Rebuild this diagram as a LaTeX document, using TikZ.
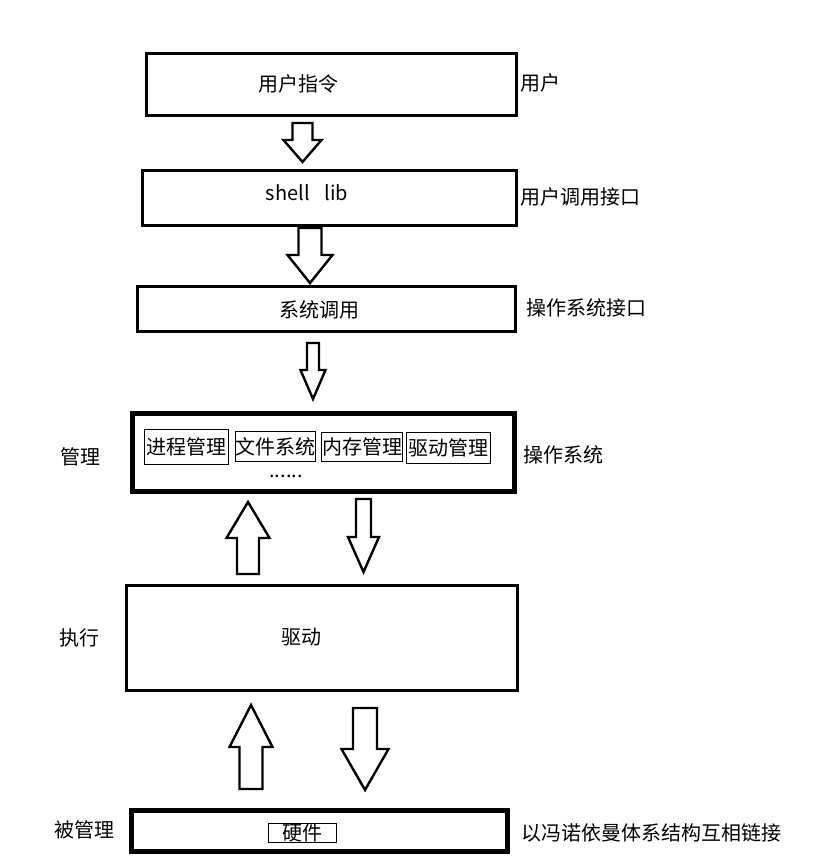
\documentclass[tikz,border=0pt]{standalone}
\usepackage{fontspec}
\setmainfont{Noto Sans CJK SC}
\usepackage{tikz}
\usetikzlibrary{positioning}
% fat block arrow: x, y start, y tip, half shaft, half head, y of head base
\newcommand{\blockarrow}[6]{%
  \draw[blk] (#1-#4,#2) -- (#1-#4,#6) -- (#1-#5,#6) -- (#1,#3) -- (#1+#5,#6) -- (#1+#4,#6) -- (#1+#4,#2) -- cycle;}

\begin{document}
\begin{tikzpicture}[x=1pt, y=-1pt,
  font=\fontsize{20}{24}\selectfont,
  box/.style={draw, line width=2.6pt, inner sep=0pt},
  heavy/.style={draw, line width=4.6pt, inner sep=0pt},
  sub/.style={draw, line width=0.9pt, inner sep=0pt, align=center},
  txt/.style={inner sep=0pt},
  side/.style={inner sep=0pt, anchor=west},
  blk/.style={draw, fill=white, line width=2.4pt, line join=miter}]
\useasboundingbox (0,0) rectangle (835,862);
% layers
\node[box, minimum width=370, minimum height=62] (usr) at (331.5,84.5) {};
\node[txt] (usrt) at (298,84) {用户指令};
\node[box, minimum width=374, minimum height=55] (lib) at (329.5,198) {};
\node[txt] (libt) at (307,193) {shell\hspace{0.75em}lib};
\node[box, minimum width=378, minimum height=45] (sys) at (326.5,309) {};
\node[txt] (syst) at (319,310) {系统调用};
\node[heavy, minimum width=382, minimum height=78] (os) at (323.5,452.5) {};
\node[sub, minimum width=84, minimum height=35] (proc) at (186.5,447) {进程管理};
\node[sub, minimum width=80, minimum height=30] (fs) at (275.5,446.5) {文件系统};
\node[sub, minimum width=81, minimum height=29] (mem) at (362,447) {内存管理};
\node[sub, minimum width=84, minimum height=31] (drvm) at (448.5,448) {驱动管理};
\node[txt] (more) at (286,476) {......};
\node[box, minimum width=391, minimum height=105] (drv) at (322,638) {};
\node[txt] (drvt) at (301,637) {驱动};
\node[heavy, minimum width=376, minimum height=41] (hw) at (319.5,831) {};
\node[sub, minimum width=68, minimum height=19] (hwt) at (302.5,833) {硬件};
% labels left
\node[txt] (lmgr) at (80,457) {管理};
\node[txt] (lexe) at (79,638) {执行};
\node[txt] (lman) at (84,830) {被管理};
% labels right
\node[side] (rusr) at (520,83) {用户};
\node[side] (rapi) at (520,197) {用户调用接口};
\node[side] (rsys) at (526,308) {操作系统接口};
\node[side] (ros) at (523,455) {操作系统};
\node[side] (rhw) at (521,833) {以冯诺依曼体系结构互相链接};
% block arrows
\blockarrow{302.5}{123}{162}{10}{19}{140}
\blockarrow{310}{228}{283}{11.5}{22.5}{255}
\blockarrow{313}{343}{399}{6}{12.5}{370}
\blockarrow{248}{574}{502}{11}{21.5}{538}
\blockarrow{363.5}{499}{572}{7.5}{15.5}{537}
\blockarrow{251}{789}{705}{11.5}{21.5}{747}
\blockarrow{365}{708}{790}{12}{23.5}{749}
\end{tikzpicture}
\end{document}
